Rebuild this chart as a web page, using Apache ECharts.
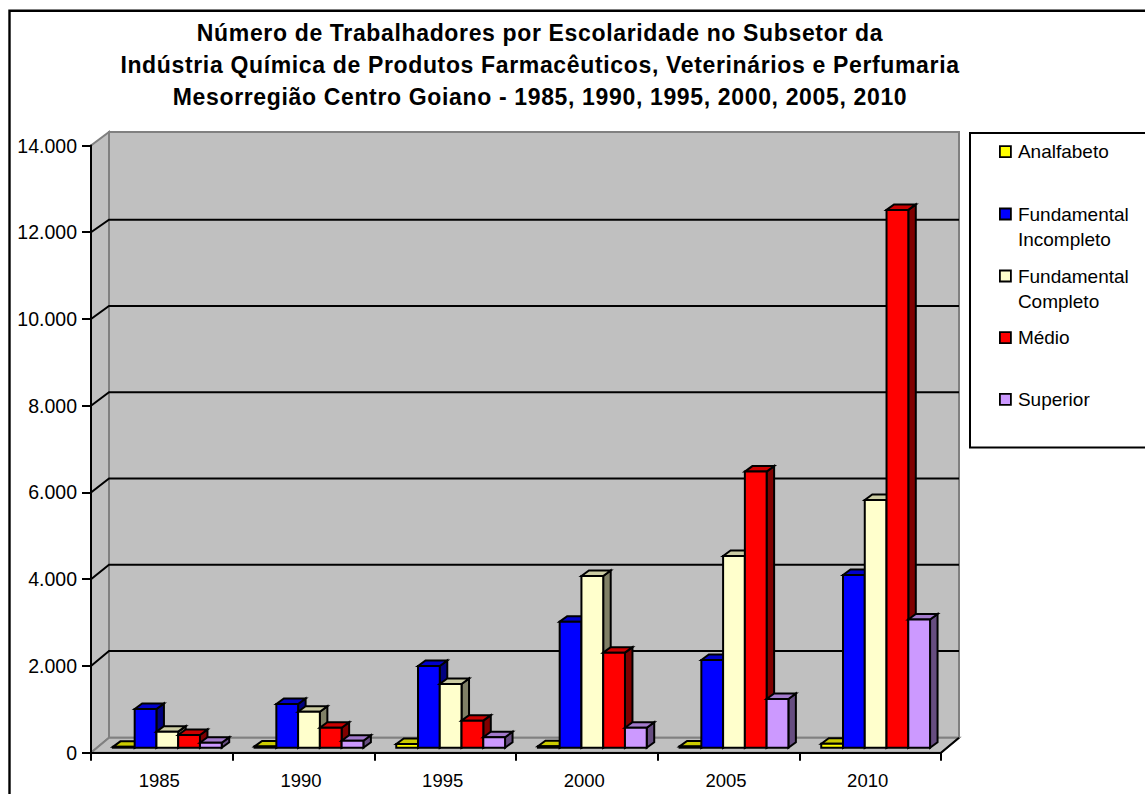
<!DOCTYPE html>
<html lang="pt">
<head>
<meta charset="utf-8">
<title>Número de Trabalhadores por Escolaridade</title>
<script src="https://cdn.jsdelivr.net/npm/echarts@6/dist/echarts.min.js"></script>
<style>html,body{margin:0;padding:0;background:#fff}#c{width:1145px;height:794px}
svg text[style*="bold"]{letter-spacing:0.65px}</style>
</head>
<body>
<div id="c"></div>
<script>
const categories = ['1985', '1990', '1995', '2000', '2005', '2010'];
const analfabeto = [20, 30, 85, 32, 30, 90];
const fundIncompleto = [892, 1008, 1884, 2906, 2022, 3983];
const fundCompleto = [370, 830, 1470, 3960, 4421, 5712];
const medio = [293, 461, 623, 2191, 6366, 12400];
const superior = [115, 161, 240, 461, 1123, 2956];
const gridTicks = [2000, 4000, 6000, 8000, 10000, 12000];
const seriesNames = ['Analfabeto', 'Fundamental\nIncompleto', 'Fundamental\nCompleto', 'Médio', 'Superior'];
const seriesValues = [analfabeto, fundIncompleto, fundCompleto, medio, superior];
const faceColors = ['#FFFF00', '#0000FF', '#FFFFCC', '#FF0000', '#CC99FF'];
const topColors = ['#CCCC00', '#0000CC', '#CCCCA3', '#CC0000', '#A37ACC'];
const sideColors = ['#808000', '#000080', '#808066', '#800000', '#664D80'];
const legendMarkerY = [151.7, 214, 276, 337.7, 399.3];

const FONT = '"Liberation Sans", Arial, sans-serif';
const WALL_DX = 18;                    // depth of the box
const BAR_DX = 7.5, BAR_DY = -5.5;     // depth of one bar
const BASE_DY = -5;                    // bars stand a little behind the front edge

function poly(points, fill, stroke, lw) {
  return { type: 'polygon', shape: { points }, style: { fill, stroke, lineWidth: lw, lineJoin: 'miter' } };
}
function renderBars(s) {
  return function (params, api) {
    const i = api.value(0), v = api.value(1);
    const cx = api.coord([i, 0])[0];
    const band = api.size([1, 0])[0];
    const w = band * 0.1536;
    const x0 = cx - band * 0.3453 + s * w;
    const x1 = x0 + w;
    const yb = api.coord([i, 0])[1] + BASE_DY;
    const yt = api.coord([i, v])[1] + BASE_DY;
    const dx = BAR_DX, dy = BAR_DY;
    return {
      type: 'group',
      children: [
        poly([[x1, yb], [x1 + dx, yb + dy], [x1 + dx, yt + dy], [x1, yt]], sideColors[s], '#000', 2),
        poly([[x0, yt], [x0 + dx, yt + dy], [x1 + dx, yt + dy], [x1, yt]], topColors[s], '#000', 2),
        poly([[x0, yb], [x1, yb], [x1, yt], [x0, yt]], faceColors[s], '#000', 2)
      ]
    };
  };
}
function renderWalls(params, api) {
  const p0 = api.coord([0, 0]), band = api.size([1, 0])[0];
  const xl = p0[0] - band / 2, xr = xl + band * categories.length;
  const yb = p0[1], yt = api.coord([0, 14000])[1];
  const dx = WALL_DX, dyB = -15, dyT = -13.5;
  const gray = '#808080';
  const children = [
    poly([[xl + dx, yt + dyT], [xr + dx, yt + dyT], [xr + dx, yb + dyB], [xl + dx, yb + dyB]], '#C0C0C0', gray, 2),
    poly([[xl, yb], [xl, yt], [xl + dx, yt + dyT], [xl + dx, yb + dyB]], '#C0C0C0', gray, 2),
    poly([[xl, yb], [xr, yb], [xr + dx, yb + dyB], [xl + dx, yb + dyB]], '#C0C0C0', gray, 2)
  ];
  gridTicks.forEach(t => {
    const y = api.coord([0, t])[1];
    const dy = -15 + (t - 2000) * 0.00024;
    children.push({ type: 'polyline', shape: { points: [[xl, y], [xl + dx, y + dy], [xr + dx, y + dy]] },
      style: { fill: 'none', stroke: '#000', lineWidth: 2 } });
  });
  children.push({ type: 'line', shape: { x1: xr, y1: yb, x2: xr + dx, y2: yb + dyB }, style: { stroke: '#000', lineWidth: 2 } });
  return { type: 'group', children };
}

const barSeries = seriesNames.map((name, s) => ({
  type: 'custom', name, z: 3 + s, silent: true,
  renderItem: renderBars(s),
  itemStyle: { color: faceColors[s] },
  encode: { x: 0, y: 1 },
  data: seriesValues[s].map((v, i) => [i, v])
}));

const legends = seriesNames.map((name, s) => {
  const twoLine = name.indexOf('\n') >= 0;
  return {
    data: [name], selectedMode: false, icon: 'rect', orient: 'vertical',
    left: 999, top: legendMarkerY[s] - (twoLine ? 37.5 : 12.5), padding: 0,
    itemWidth: 11, itemHeight: 11,
    formatter: n => twoLine ? '\n' + n : n,
    itemStyle: { color: faceColors[s], borderColor: '#000', borderWidth: 1.8 },
    textStyle: { fontFamily: FONT, fontSize: 19, color: '#000', lineHeight: 25, padding: [0, 0, 0, 2] }
  };
});

const chart = echarts.init(document.getElementById('c'), null, { renderer: 'svg' });
chart.setOption({
  animation: false,
  backgroundColor: '#fff',
  title: {
    text: 'Número de Trabalhadores por Escolaridade no Subsetor da\nIndústria Química de Produtos Farmacêuticos, Veterinários e Perfumaria\nMesorregião Centro Goiano - 1985, 1990, 1995, 2000, 2005, 2010',
    left: 540, top: 17, textAlign: 'center', padding: 0,
    textStyle: { fontFamily: FONT, fontSize: 23, fontWeight: 'bold', color: '#000', lineHeight: 32 }
  },
  legend: legends,
  grid: { left: 91, right: 204, top: 145.5, bottom: 41.3, containLabel: false },
  xAxis: {
    type: 'category', data: categories, z: 10,
    axisLine: { show: true, lineStyle: { color: '#000', width: 2 } },
    axisTick: { show: true, length: 8, lineStyle: { color: '#000', width: 2 } },
    axisLabel: { fontFamily: FONT, fontSize: 18.5, color: '#000', margin: 18, padding: [0, 5, 0, 0] },
    splitLine: { show: false }
  },
  yAxis: {
    type: 'value', min: 0, max: 14000, interval: 2000, z: 10,
    axisLine: { show: true, lineStyle: { color: '#000', width: 2 } },
    axisTick: { show: true, length: 9, lineStyle: { color: '#000', width: 2 } },
    axisLabel: { fontFamily: FONT, fontSize: 19.5, color: '#000', margin: 14,
      formatter: v => v === 0 ? '0' : String(v).replace(/(\d)(\d{3})$/, '$1.$2') },
    splitLine: { show: false }
  },
  graphic: [
    { type: 'rect', z: -10, shape: { x: 9.5, y: 10.7, width: 1300, height: 1000 }, style: { fill: 'none', stroke: '#000', lineWidth: 2.4 } },
    { type: 'rect', z: -10, shape: { x: 970, y: 133, width: 300, height: 314.5 }, style: { fill: '#fff', stroke: '#000', lineWidth: 2 } }
  ],
  series: [
    { type: 'custom', name: 'parede', z: 1, silent: true, renderItem: renderWalls, encode: { x: 0, y: 1 }, data: [[0, 0]] }
  ].concat(barSeries)
});
</script>
</body>
</html>
